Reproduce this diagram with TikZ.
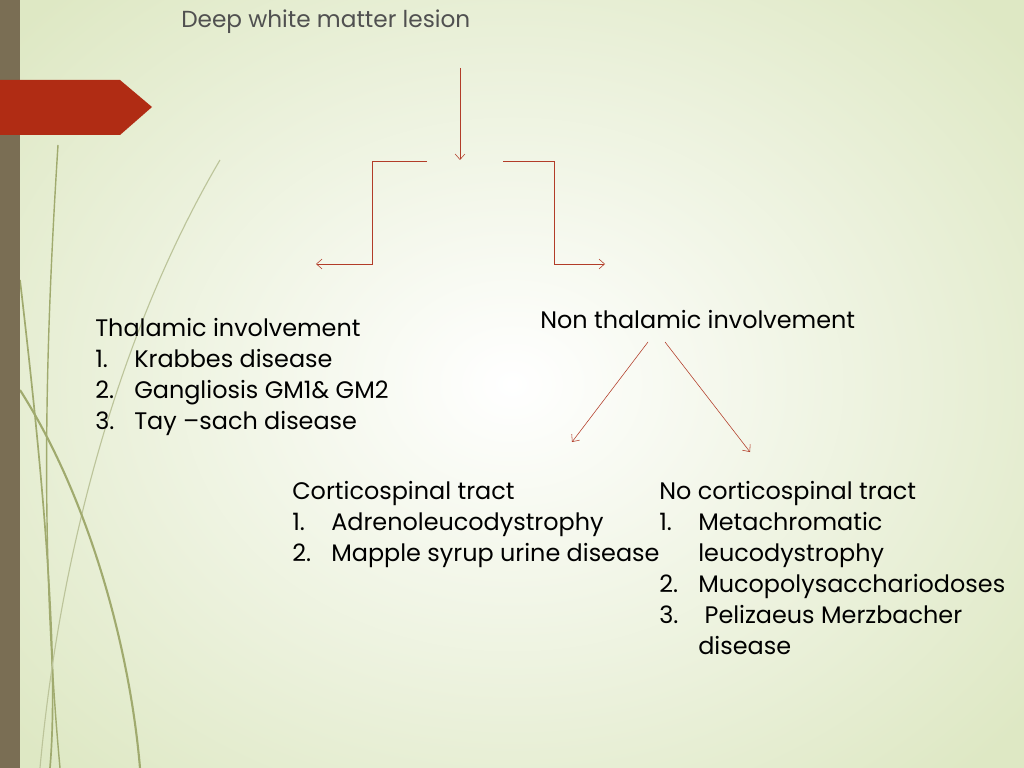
\documentclass[tikz,border=0pt]{standalone}
\usepackage{fontspec}
\setmainfont{Poppins}
\usepackage{tikz}
\definecolor{lnred}{RGB}{178,60,40}
\definecolor{barbrown}{RGB}{122,110,84}
\definecolor{tabred}{RGB}{176,44,20}
\definecolor{txtgray}{RGB}{80,80,80}
\definecolor{grass}{RGB}{160,170,110}
\definecolor{bgout}{RGB}{222,232,196}
\newcommand{\itm}[1]{\makebox[0.975cm][l]{#1}}
\tikzset{
  lbl/.style={anchor=north west,inner sep=0pt,font=\fontsize{17}{22}\selectfont,align=left},
  conn/.style={draw=lnred,thin,-{Straight Barb[length=4pt,width=7pt]}}
}
\usetikzlibrary{arrows.meta}
\begin{document}
\begin{tikzpicture}[x=0.025cm,y=-0.025cm]
      \useasboundingbox (0,0) rectangle (1024,768);
      \shade[inner color=white,outer color=bgout] (-150,-150) rectangle (1174,918);
      % leaves
      \draw[grass,line width=1.2pt] (20,280) .. controls (40,450) and (60,650) .. (50,768);
      \draw[grass,line width=1pt] (58,145) .. controls (45,350) and (40,550) .. (60,768);
      \draw[grass!70,line width=0.8pt] (220,160) .. controls (120,330) and (60,550) .. (40,768);
      \draw[grass,line width=1.5pt] (20,390) .. controls (90,500) and (130,650) .. (140,768);
      \fill[barbrown] (0,0) rectangle (20,768);
      \fill[tabred] (0,80) -- (120,80) -- (152,107) -- (120,135) -- (0,135) -- cycle;
      % texts
      \node[lbl,text=txtgray,font=\fontsize{16.5}{18}\selectfont] (title) at (181,10) {Deep white matter lesion};
      \node[lbl] (thal) at (95,318) {Thalamic involvement\\\itm{1.}Krabbes disease\\\itm{2.}Gangliosis GM1\& GM2\\\itm{3.}Tay –sach disease};
      \node[lbl] (nonthal) at (540,310) {Non thalamic involvement};
      \node[lbl] (cst) at (292,481) {Corticospinal tract\\\itm{1.}Adrenoleucodystrophy\\\itm{2.}Mapple syrup urine disease};
      \node[lbl] (nocst) at (659,481) {No corticospinal tract\\\itm{1.}Metachromatic\\\itm{}leucodystrophy\\\itm{2.}Mucopolysacchariodoses\\\itm{3.}\ Pelizaeus Merzbacher\\\itm{}disease};
      % connectors
      \coordinate (top) at (460,68);
      \coordinate (split) at (460,160);
      \coordinate (lft) at (427,161);
      \coordinate (rgt) at (503,161);
      \coordinate (lend) at (316,264);
      \coordinate (rend) at (605,264);
      \coordinate (dl) at (648,342);
      \coordinate (dr) at (665,342);
      \coordinate (dlend) at (572,442);
      \coordinate (drend) at (750,452);
      \draw[conn] (top) -- (split);
      \draw[conn] (lft) -- (372,161) -- (372,264) -- (lend);
      \draw[conn] (rgt) -- (554,161) -- (554,264) -- (rend);
      \draw[conn] (dl) -- (dlend);
      \draw[conn] (dr) -- (drend);
\end{tikzpicture}
\end{document}
